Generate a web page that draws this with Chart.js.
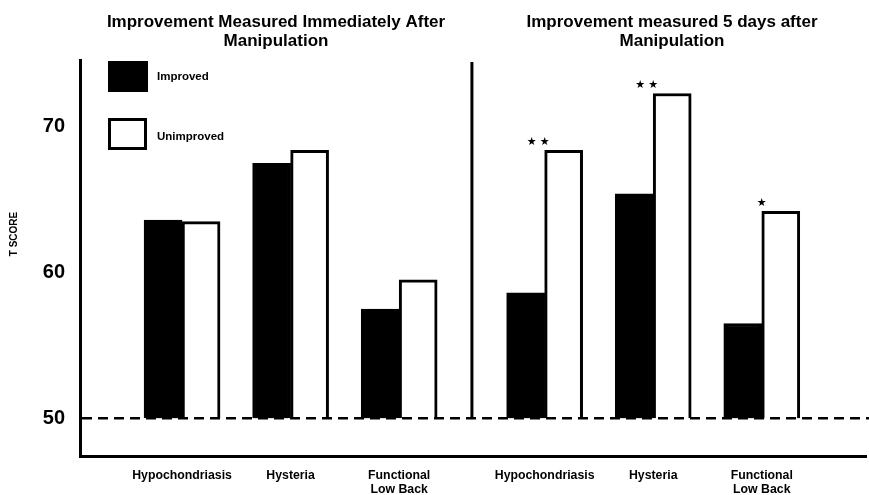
<!DOCTYPE html>
<html>
<head>
<meta charset="utf-8">
<script src="https://cdn.jsdelivr.net/npm/chart.js@4.4.1/dist/chart.umd.min.js"></script>
<style>
  html, body { margin: 0; padding: 0; background: #ffffff; }
  #wrap { width: 869px; height: 495px; }
</style>
</head>
<body>
<div id="wrap"><canvas id="c" width="869" height="495"></canvas></div>
<script>
// ---- data ----
const categories = ['Hypochondriasis', 'Hysteria', ['Functional', 'Low Back']];
const panelTitles = [
  ['Improvement Measured Immediately After', 'Manipulation'],
  ['Improvement measured 5 days after', 'Manipulation']
];
const seriesNames = ['Improved', 'Unimproved'];
const improvedImmediate   = [63.6, 67.5, 57.5];
const unimprovedImmediate = [63.5, 68.4, 59.5];
const improvedFiveDays    = [58.6, 65.4, 56.5];
const unimprovedFiveDays  = [68.4, 72.3, 64.2];
const significance = ['', '', '', '**', '**', '*'];
const yTicks = [50, 60, 70];
const baselineValue = 50;
const yAxisTitle = 'T SCORE';

// ---- layout helpers (not data) ----
const PANEL_GAP = 3.34;
const xPositions = [];
const xLabels = [];
[0, 1].forEach(p => categories.forEach((c, i) => { xPositions.push(p * PANEL_GAP + i); xLabels.push(c); }));
const improved = improvedImmediate.concat(improvedFiveDays);
const unimproved = unimprovedImmediate.concat(unimprovedFiveDays);
const toPoints = arr => arr.map((v, i) => ({ x: xPositions[i], y: v }));

const FONT = '"Liberation Sans", Arial, Helvetica, sans-serif';

const decorPlugin = {
  id: 'decor',
  afterDatasetsDraw(chart) {
    const ctx = chart.ctx;
    const xs = chart.scales.x, ys = chart.scales.y;
    const area = chart.chartArea;
    const y50 = ys.getPixelForValue(baselineValue);
    ctx.save();
    // dashed baseline at 50
    ctx.strokeStyle = '#000';
    ctx.lineWidth = 2.5;
    ctx.setLineDash([10, 6]);
    ctx.beginPath();
    ctx.moveTo(area.left + 2, y50);
    ctx.lineTo(chart.width, y50);
    ctx.stroke();
    ctx.setLineDash([]);
    // panel divider
    const xd = xs.getPixelForValue(PANEL_GAP - 0.67);
    ctx.lineWidth = 3;
    ctx.beginPath();
    ctx.moveTo(xd, area.top + 2);
    ctx.lineTo(xd, y50);
    ctx.stroke();
    // significance stars
    const meta = chart.getDatasetMeta(1);
    ctx.fillStyle = '#000';
    ctx.font = '11px "DejaVu Sans", sans-serif';
    ctx.textAlign = 'center';
    ctx.textBaseline = 'middle';
    significance.forEach((s, i) => {
      if (!s) return;
      const el = meta.data[i];
      const cx = xs.getPixelForValue(xPositions[i]);
      for (let k = 0; k < s.length; k++) {
        ctx.fillText('\u2605', cx - 13 * k, el.y - 8);
      }
    });
    // legend
    const ds = chart.data.datasets;
    const boxes = [{ x: 108, y: 61, w: 40, h: 31, ty: 77 }, { x: 108, y: 118, w: 39, h: 32, ty: 137 }];
    ds.forEach((d, i) => {
      const b = boxes[i];
      ctx.fillStyle = d.borderColor;
      ctx.fillRect(b.x, b.y, b.w, b.h);
      ctx.fillStyle = d.backgroundColor;
      ctx.fillRect(b.x + 3, b.y + 3, b.w - 6, b.h - 6);
      ctx.fillStyle = '#000';
      ctx.font = 'bold 11.5px ' + FONT;
      ctx.textAlign = 'left';
      ctx.textBaseline = 'middle';
      ctx.fillText(d.label, 157, b.ty);
    });
    // panel titles
    ctx.font = 'bold 17px ' + FONT;
    ctx.textAlign = 'center';
    ctx.textBaseline = 'alphabetic';
    const titleCenters = [276, 672];
    panelTitles.forEach((lines, p) => {
      lines.forEach((t, j) => ctx.fillText(t, titleCenters[p], 26.5 + j * 19));
    });
    // y axis title
    ctx.save();
    ctx.translate(14, 234);
    ctx.rotate(-Math.PI / 2);
    ctx.font = 'bold 10px ' + FONT;
    ctx.textAlign = 'center';
    ctx.textBaseline = 'middle';
    ctx.fillText(yAxisTitle, 0, 0);
    ctx.restore();
    ctx.restore();
  }
};

new Chart(document.getElementById('c'), {
  type: 'bar',
  data: {
    datasets: [
      { label: seriesNames[0], data: toPoints(improved), backgroundColor: '#000000', borderColor: '#000000',
        borderWidth: 3, base: baselineValue, barThickness: 38 },
      { label: seriesNames[1], data: toPoints(unimproved), backgroundColor: '#ffffff', borderColor: '#000000',
        borderWidth: 3, base: baselineValue, barThickness: 38 }
    ]
  },
  options: {
    responsive: false,
    animation: false,
    devicePixelRatio: 1,
    layout: { padding: { top: 60, right: 3, left: 0, bottom: 0 } },
    plugins: { legend: { display: false }, tooltip: { enabled: false }, title: { display: false } },
    scales: {
      x: {
        type: 'linear',
        offset: false,
        min: -0.94,
        max: 6.30,
        grid: { display: false, drawTicks: false },
        border: { display: true, color: '#000', width: 3 },
        afterBuildTicks: s => { s.ticks = xPositions.map(v => ({ value: v })); },
        afterFit: s => { s.height = 39; },
        ticks: {
          autoSkip: false,
          maxRotation: 0,
          padding: 13,
          color: '#000',
          font: { family: FONT, weight: 'bold', size: 12.3, lineHeight: 1.1 },
          callback: (v, i) => xLabels[i]
        }
      },
      y: {
        min: 47.4,
        max: 74.6,
        grid: { display: false, drawTicks: false },
        border: { display: true, color: '#000', width: 3 },
        afterBuildTicks: s => { s.ticks = yTicks.map(v => ({ value: v })); },
        afterFit: s => { s.width = 80; },
        ticks: {
          padding: 15,
          color: '#000',
          font: { family: FONT, weight: 'bold', size: 20 }
        }
      }
    }
  },
  plugins: [decorPlugin]
});
</script>
</body>
</html>
